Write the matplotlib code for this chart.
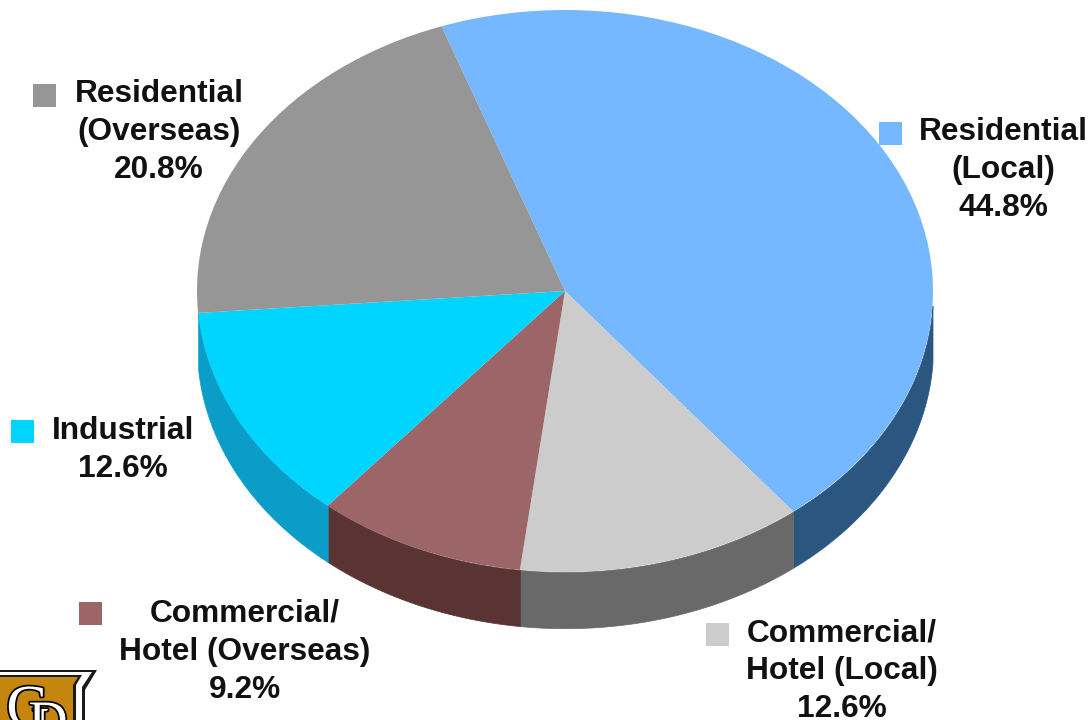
import numpy as np
import matplotlib
matplotlib.use('Agg')
import matplotlib.pyplot as plt
import matplotlib.patheffects as pe
from matplotlib.patches import Rectangle, Polygon

W, H = 1091, 720

names = ['Residential\n(Local)', 'Commercial/\nHotel (Local)', 'Commercial/\nHotel (Overseas)',
         'Industrial', 'Residential\n(Overseas)']
shares = [44.8, 12.6, 9.2, 12.6, 20.8]
top_colors = ['#75B8FF', '#CCCCCC', '#9C6668', '#00D5FF', '#969696']
# the last slice sits on the back of the pie, so it has no visible wall
side_colors = ['#2A5680', '#696969', '#5A3333', '#0A9DC8']

# label centre (x, y of first line) and key square centre, in pixels
label_pos = [(1003, 131), (842, 632), (245, 613), (123, 430), (159, 93)]
key_pos = [(890, 133), (717, 634), (90, 613), (22, 431), (44, 95)]

START_ANGLE = 109.6
DEPTH = 0.2  # wall height in pie radii

plt.rcParams['font.family'] = ['Liberation Sans', 'DejaVu Sans']
fig = plt.figure(figsize=(W / 100, H / 100), dpi=100, facecolor='white')

# pie axes: unit circle gets squashed into the ellipse of the top face
ax = fig.add_axes([197 / W, (H - 572) / H, 736 / W, 562 / H])
ax.pie(shares, colors=top_colors, startangle=START_ANGLE, counterclock=False,
       radius=1, wedgeprops={'linewidth': 0, 'zorder': 3})
ax.set_aspect('auto')
ax.set_xlim(-1, 1)
ax.set_ylim(-1, 1)

# side wall along the lower rim, tapering off just below the right extreme
edges = START_ANGLE - np.cumsum([0] + shares) * 3.6
for i, c in enumerate(side_colors):
    a1, a0 = edges[i], edges[i + 1]
    for shift in (0, 360):
        lo = max(a0 + shift, 180)
        hi = min(a1 + shift, 357)
        if hi > lo:
            t = np.radians(np.linspace(lo, hi, 120))
            ax.fill_between(np.cos(t), np.sin(t), np.sin(t) - DEPTH, color=c,
                            linewidth=0.5, zorder=2, clip_on=False)

# overlay in pixel coordinates for labels and logo
ov = fig.add_axes([0, 0, 1, 1], facecolor='none')
ov.set_xlim(0, W)
ov.set_ylim(H, 0)
ov.axis('off')

for name, val, (x, y), (kx, ky), c in zip(names, shares, label_pos, key_pos, top_colors):
    ov.add_patch(Rectangle((kx - 11.5, ky - 11.5), 23, 23, color=c, linewidth=0))
    ov.text(x, y - 14, f'{name}\n{val}%', ha='center', va='top', fontsize=22.8,
            fontweight='bold', color='#111111', linespacing=1.34)

# company badge in the corner
ov.add_patch(Polygon([(0, 670), (97, 670), (85, 690), (85, 720), (0, 720)], color='#1A1A1A', lw=0))
ov.add_patch(Polygon([(0, 672), (92, 672), (82, 687), (82, 720), (0, 720)], color='white', lw=0))
ov.add_patch(Polygon([(0, 675), (82, 675), (76, 685), (76, 720), (0, 720)], color='#1A1A1A', lw=0))
ov.add_patch(Polygon([(0, 677), (78, 677), (73, 685), (73, 720), (0, 720)], color='#C5860F', lw=0))
outline = [pe.withStroke(linewidth=2.5, foreground='black')]
ov.text(28, 726, 'G', fontsize=43, family='Liberation Serif', color='white', ha='center', va='baseline',
        path_effects=outline, clip_on=True)
ov.text(48, 738, 'D', fontsize=39, family='Liberation Serif', color='white', ha='center', va='baseline',
        path_effects=outline, clip_on=True)

fig.savefig('out.png', dpi=100)
